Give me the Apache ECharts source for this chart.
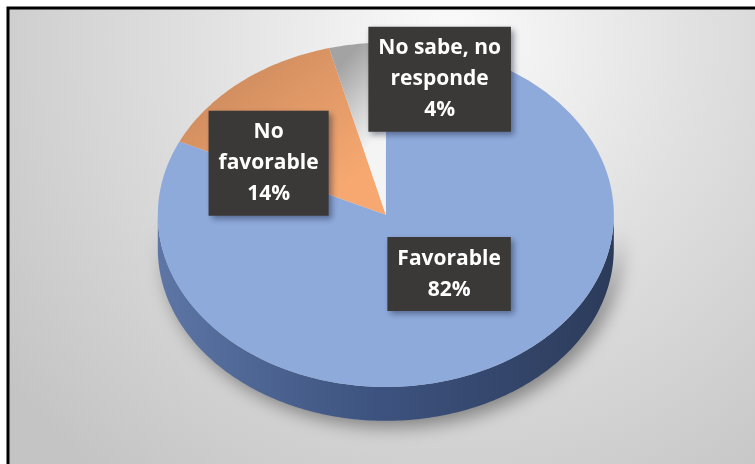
<!DOCTYPE html>
<html><head><meta charset="utf-8">
<script src="https://cdn.jsdelivr.net/npm/echarts@6/dist/echarts.min.js"></script>
<style>html,body{margin:0;padding:0;background:#fff}#chart{width:755px;height:464px}</style>
</head><body><div id="chart"></div>
<script>
// ---- data ----
const categories = ['Favorable', 'No favorable', 'No sabe, no responde'];
const values = [82, 14, 4];
const labelLines = ['Favorable', 'No\nfavorable', 'No sabe, no\nresponde'];

// ---- styling / layout (not data) ----
const labelOffsets = [[-10, -28], [-30, 28], [71, -33]];
const G = echarts.graphic;
const topFills = [
  '#8eaadb',
  new G.LinearGradient(0, 0, 0.6, 1, [{offset: 0, color: '#c4845a'}, {offset: 1, color: '#f6a870'}]),
  new G.LinearGradient(0, 0.2, 1, 0.5, [{offset: 0, color: '#a3a3a3'}, {offset: 1, color: '#f4f4f4'}])
];
const sideFill = new G.LinearGradient(0, 0, 1, 0, [
  {offset: 0, color: '#5d76a5'}, {offset: 0.45, color: '#3e5481'}, {offset: 1, color: '#2c3b5a'}
]);

const total = values.reduce((a, b) => a + b, 0);
const starts = values.map((v, i) => values.slice(0, i).reduce((a, b) => a + b, 0));
const seriesData = values.map((v, i) => ({name: categories[i], value: [v, starts[i]]}));

function renderItem(params, api) {
  const W = api.getWidth(), H = api.getHeight();
  const cx = W * 0.511, cy = H * 0.463, rx = W * 0.302, ry = H * 0.371, th = H * 0.073;
  const i = params.dataIndex;
  const v = api.value(0), s = api.value(1);
  const a = s / total * Math.PI * 2, b = (s + v) / total * Math.PI * 2;
  const pt = (t, dy) => [cx + rx * Math.sin(t), cy - ry * Math.cos(t) + (dy || 0)];
  const arc = (t0, t1, dy) => {
    const n = Math.max(2, Math.ceil(Math.abs(t1 - t0) / (Math.PI / 180)));
    const out = [];
    for (let k = 0; k <= n; k++) out.push(pt(t0 + (t1 - t0) * k / n, dy));
    return out;
  };
  const children = [];
  const sa = Math.max(a, Math.PI / 2), sb = Math.min(b, Math.PI * 3 / 2);
  if (sa < sb) {
    children.push({
      type: 'polygon', z2: 1,
      shape: {points: arc(sa, sb, 0).concat(arc(sb, sa, th))},
      style: {fill: sideFill, shadowBlur: 18, shadowColor: 'rgba(0,0,0,0.4)', shadowOffsetX: 6, shadowOffsetY: 6}
    });
  }
  children.push({
    type: 'polygon', z2: 2,
    shape: {points: [[cx, cy]].concat(arc(a, b, 0))},
    style: {fill: topFills[i]}
  });
  const m = (a + b) / 2;
  const lp = pt(m);
  const lx = cx + (lp[0] - cx) * 0.6 + labelOffsets[i][0];
  const ly = cy + (lp[1] - cy) * 0.6 + labelOffsets[i][1];
  children.push({
    type: 'text', z2: 100,
    style: {
      text: labelLines[i] + '\n' + Math.round(v / total * 100) + '%',
      x: lx, y: ly, align: 'center', verticalAlign: 'middle',
      fill: '#ffffff', font: 'bold 21px "Open Sans"', lineHeight: 31,
      backgroundColor: '#3a3938', padding: [6, 10],
      shadowBlur: 6, shadowColor: 'rgba(20,30,60,0.45)', shadowOffsetX: 3, shadowOffsetY: 3
    }
  });
  return {type: 'group', children};
}

const chart = echarts.init(document.getElementById('chart'), null, {renderer: 'canvas'});
chart.setOption({
  animation: false,
  graphic: [{
    type: 'rect', z: -10, silent: true,
    shape: {x: 8, y: 8, width: 800, height: 500},
    style: {
      fill: new G.RadialGradient(450, 40, 560, [
        {offset: 0, color: '#fbfbfb'}, {offset: 0.45, color: '#e0e0e0'}, {offset: 1, color: '#c4c4c4'}
      ], true),
      stroke: '#000', lineWidth: 3
    }
  }],
  series: [{
    type: 'custom', coordinateSystem: 'none', silent: true,
    renderItem: renderItem,
    data: seriesData
  }]
});
</script></body></html>
